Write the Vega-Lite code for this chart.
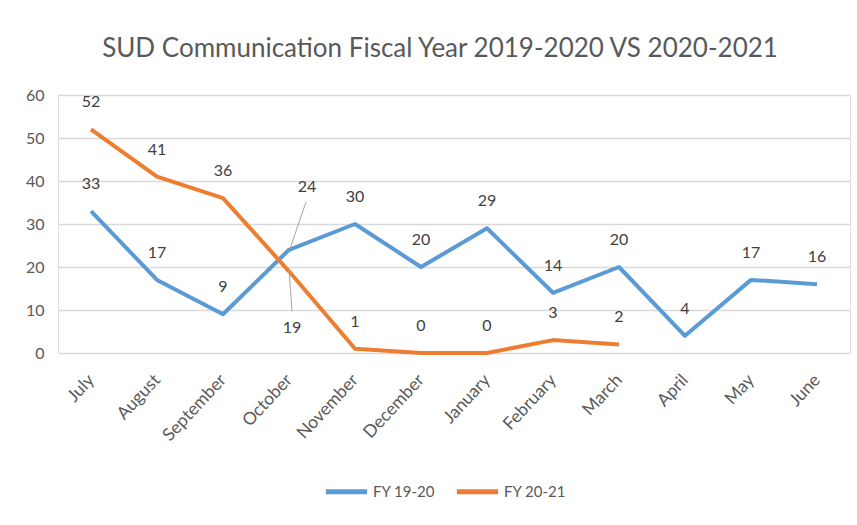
{
  "$schema": "https://vega.github.io/schema/vega-lite/v6.json",
  "autosize": "none",
  "width": 792,
  "height": 258,
  "padding": {"left": 58, "top": 95, "right": 7, "bottom": 172},
  "background": "white",
  "title": {
    "text": "SUD Communication Fiscal Year 2019-2020 VS 2020-2021",
    "font": "Lato",
    "fontSize": 26,
    "fontWeight": "normal",
    "color": "#595959",
    "anchor": "middle",
    "dx": -14,
    "offset": 25
  },
  "data": {
    "values": [
      {"month": "July", "series": "FY 19-20", "value": 33},
      {"month": "August", "series": "FY 19-20", "value": 17},
      {"month": "September", "series": "FY 19-20", "value": 9},
      {"month": "October", "series": "FY 19-20", "value": 24},
      {"month": "November", "series": "FY 19-20", "value": 30},
      {"month": "December", "series": "FY 19-20", "value": 20},
      {"month": "January", "series": "FY 19-20", "value": 29},
      {"month": "February", "series": "FY 19-20", "value": 14},
      {"month": "March", "series": "FY 19-20", "value": 20},
      {"month": "April", "series": "FY 19-20", "value": 4},
      {"month": "May", "series": "FY 19-20", "value": 17},
      {"month": "June", "series": "FY 19-20", "value": 16},
      {"month": "July", "series": "FY 20-21", "value": 52},
      {"month": "August", "series": "FY 20-21", "value": 41},
      {"month": "September", "series": "FY 20-21", "value": 36},
      {"month": "October", "series": "FY 20-21", "value": 19},
      {"month": "November", "series": "FY 20-21", "value": 1},
      {"month": "December", "series": "FY 20-21", "value": 0},
      {"month": "January", "series": "FY 20-21", "value": 0},
      {"month": "February", "series": "FY 20-21", "value": 3},
      {"month": "March", "series": "FY 20-21", "value": 2}
    ]
  },
  "encoding": {
    "x": {
      "field": "month",
      "type": "ordinal",
      "sort": null,
      "scale": {"type": "point", "padding": 0.5},
      "axis": {
        "title": null,
        "labelAngle": -47,
        "labelAlign": "right",
        "labelBaseline": "middle",
        "labelFont": "Lato",
        "labelFontSize": 17.5,
        "labelColor": "#595959",
        "labelPadding": 24,
        "ticks": false,
        "domain": false,
        "grid": false
      }
    },
    "y": {
      "field": "value",
      "type": "quantitative",
      "scale": {"domain": [0, 60], "nice": false},
      "axis": {
        "title": null,
        "values": [0, 10, 20, 30, 40, 50, 60],
        "labelFont": "Lato",
        "labelFontSize": 16,
        "labelColor": "#595959",
        "labelPadding": 14,
        "ticks": false,
        "domain": false,
        "gridColor": "#d9d9d9",
        "gridWidth": 1.5
      }
    }
  },
  "layer": [
    {
      "mark": {"type": "line", "strokeWidth": 4, "strokeJoin": "round"},
      "encoding": {
        "color": {
          "field": "series",
          "type": "nominal",
          "scale": {"domain": ["FY 19-20", "FY 20-21"], "range": ["#5B9BD5", "#ED7D31"]},
          "legend": {
            "title": null,
            "orient": "none",
            "direction": "horizontal",
            "legendX": 265,
            "legendY": 373,
            "symbolType": "stroke",
            "symbolStrokeWidth": 5,
            "symbolSize": 1700,
            "labelOffset": 3,
            "labelFont": "Lato",
            "labelFontSize": 15,
            "labelColor": "#595959",
            "columnPadding": 10
          }
        }
      }
    },
    {
      "transform": [{"filter": "datum.month !== 'October'"}],
      "mark": {"type": "text", "dy": -27, "font": "Lato", "fontSize": 16, "color": "#404040"},
      "encoding": {"text": {"field": "value", "type": "quantitative"}}
    },
    {
      "transform": [{"filter": "datum.month === 'October' && datum.series === 'FY 19-20'"}],
      "mark": {"type": "text", "dx": 18, "dy": -63, "font": "Lato", "fontSize": 16, "color": "#404040"},
      "encoding": {"text": {"field": "value", "type": "quantitative"}}
    },
    {
      "transform": [{"filter": "datum.month === 'October' && datum.series === 'FY 20-21'"}],
      "mark": {"type": "text", "dx": 3, "dy": 57, "font": "Lato", "fontSize": 16, "color": "#404040"},
      "encoding": {"text": {"field": "value", "type": "quantitative"}}
    },
    {
      "transform": [{"filter": "datum.month === 'October' && datum.series === 'FY 19-20'"}],
      "mark": {"type": "rule", "color": "#a6a6a6", "strokeWidth": 1, "xOffset": 1, "yOffset": -1, "x2Offset": 17, "y2Offset": -48},
      "encoding": {"x2": {"field": "month"}, "y2": {"field": "value"}}
    },
    {
      "transform": [{"filter": "datum.month === 'October' && datum.series === 'FY 20-21'"}],
      "mark": {"type": "rule", "color": "#a6a6a6", "strokeWidth": 1, "xOffset": 0, "yOffset": -3, "x2Offset": 3, "y2Offset": 40},
      "encoding": {"x2": {"field": "month"}, "y2": {"field": "value"}}
    }
  ]
}
